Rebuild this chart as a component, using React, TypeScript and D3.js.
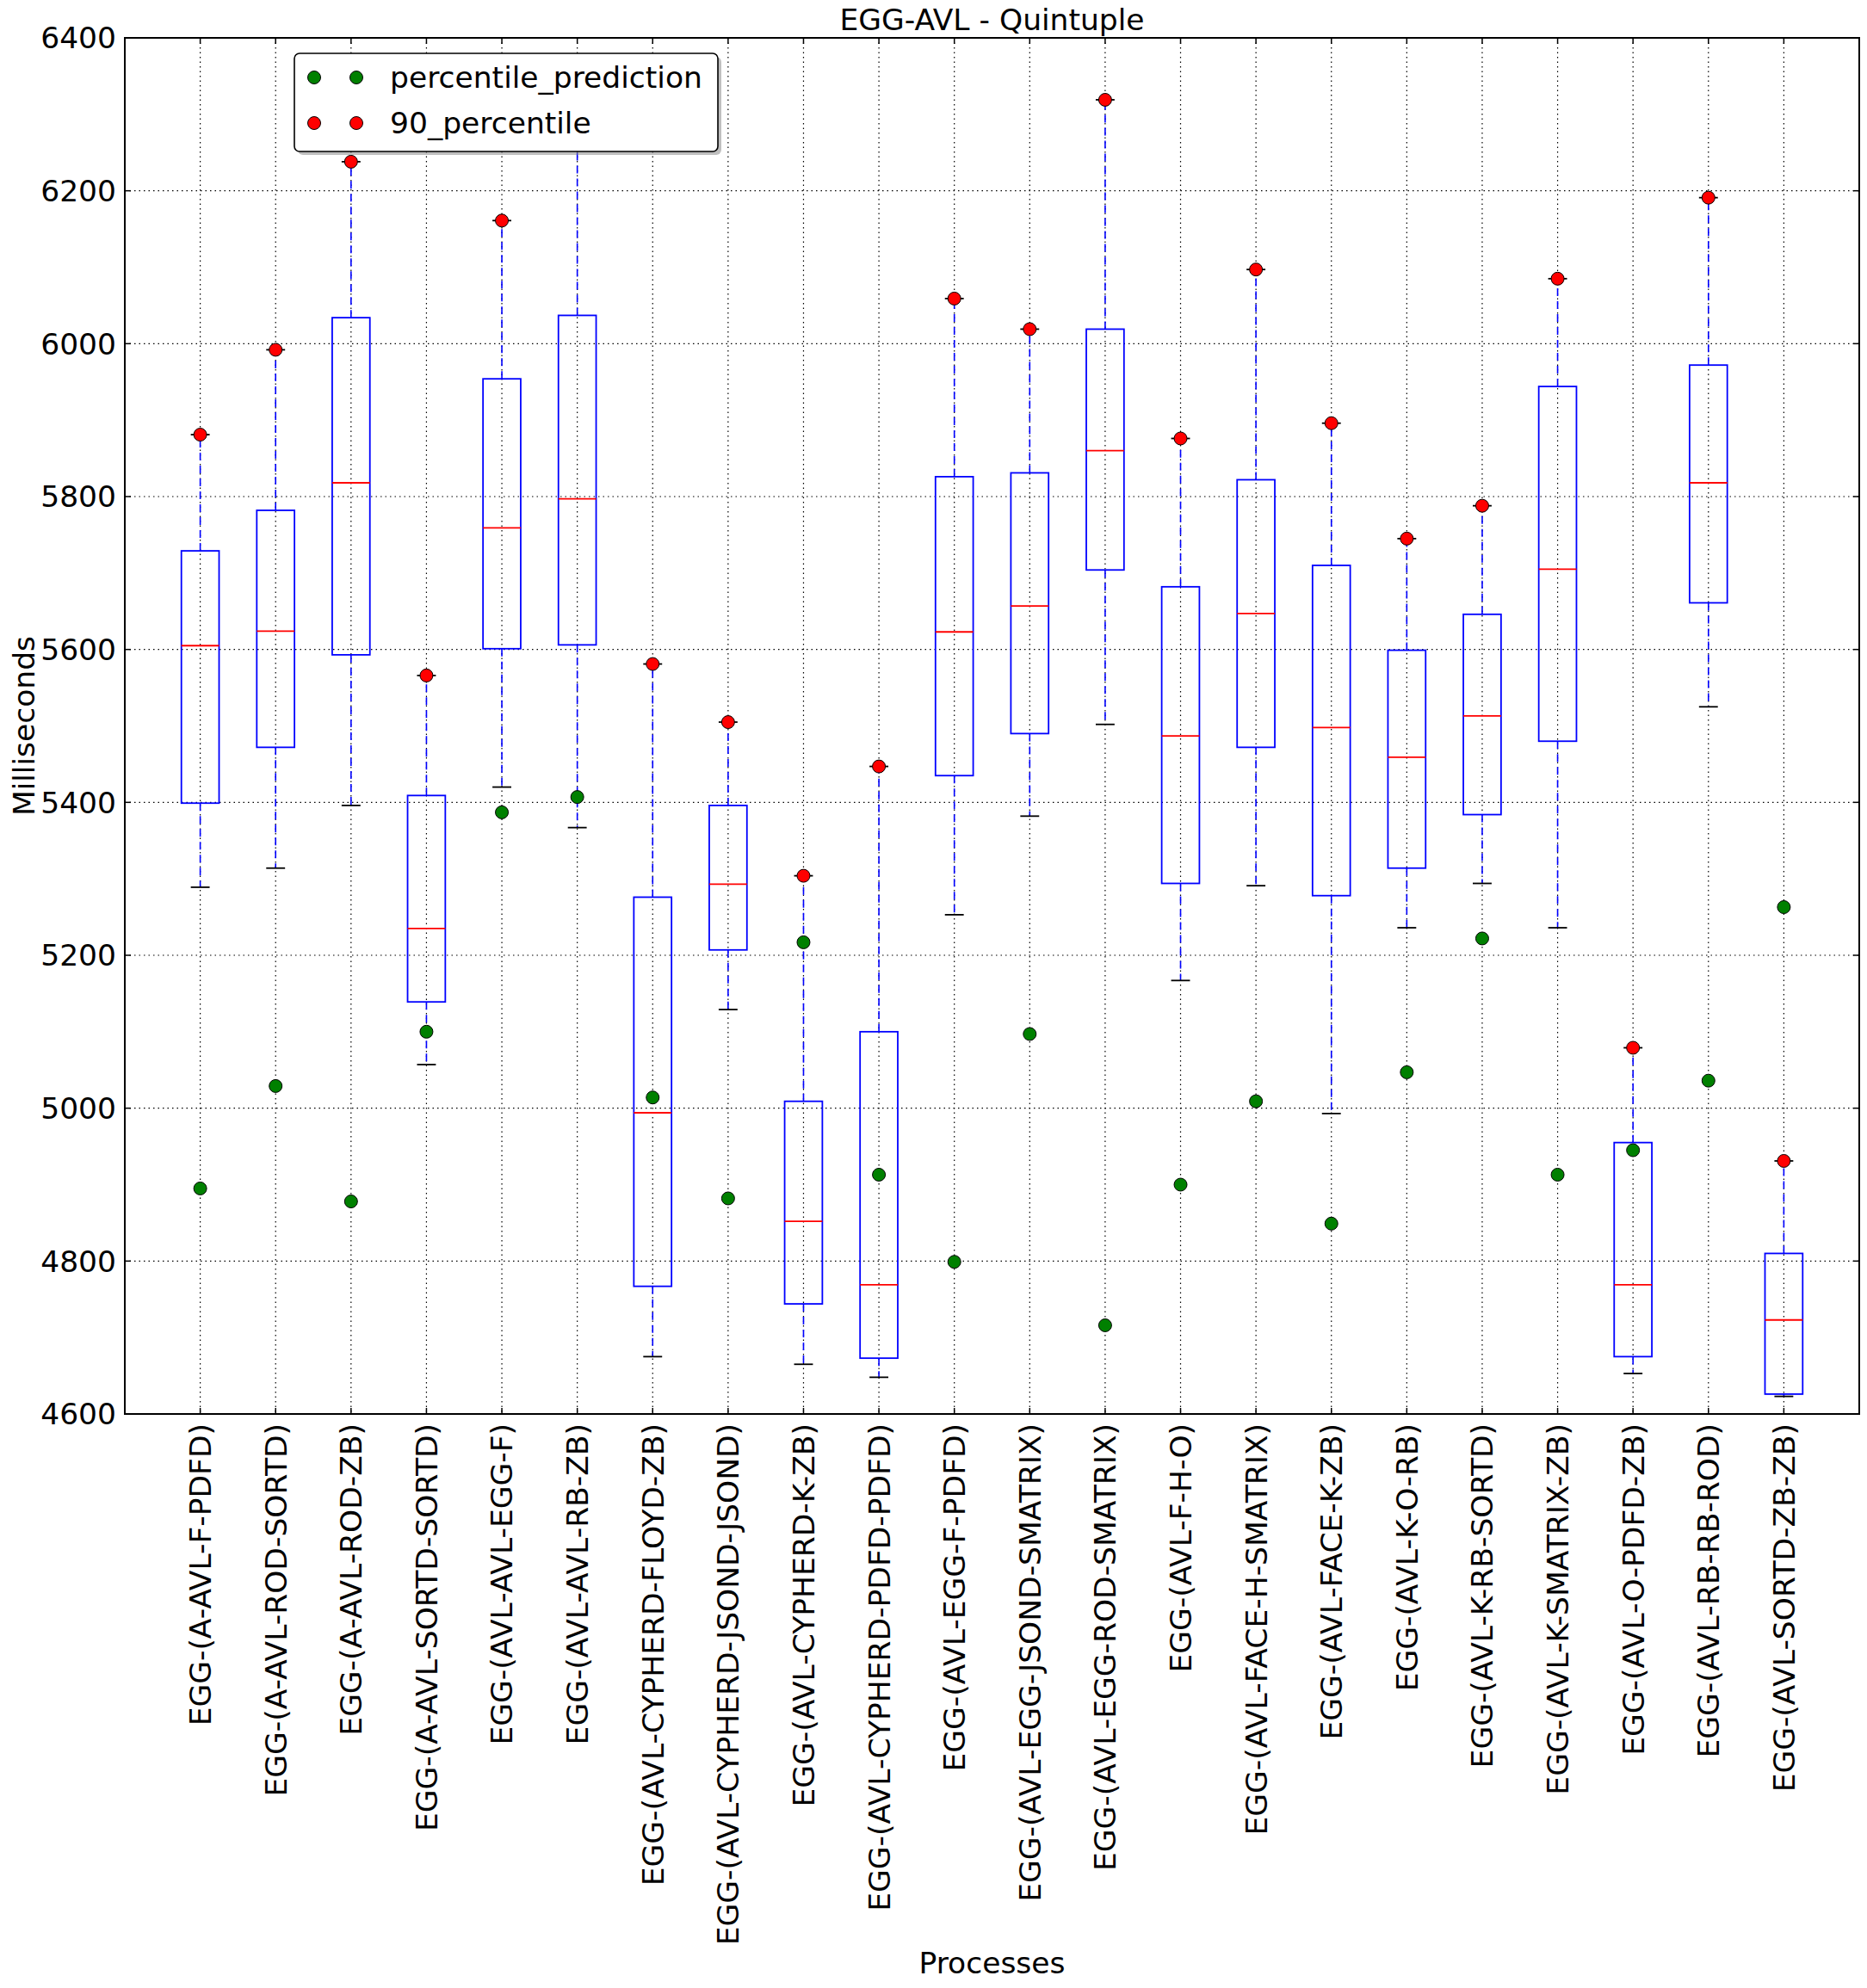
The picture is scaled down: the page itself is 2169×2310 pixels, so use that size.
import React from "react";
import * as d3 from "d3";

const categories = [
  "EGG-(A-AVL-F-PDFD)",
  "EGG-(A-AVL-ROD-SORTD)",
  "EGG-(A-AVL-ROD-ZB)",
  "EGG-(A-AVL-SORTD-SORTD)",
  "EGG-(AVL-AVL-EGG-F)",
  "EGG-(AVL-AVL-RB-ZB)",
  "EGG-(AVL-CYPHERD-FLOYD-ZB)",
  "EGG-(AVL-CYPHERD-JSOND-JSOND)",
  "EGG-(AVL-CYPHERD-K-ZB)",
  "EGG-(AVL-CYPHERD-PDFD-PDFD)",
  "EGG-(AVL-EGG-F-PDFD)",
  "EGG-(AVL-EGG-JSOND-SMATRIX)",
  "EGG-(AVL-EGG-ROD-SMATRIX)",
  "EGG-(AVL-F-H-O)",
  "EGG-(AVL-FACE-H-SMATRIX)",
  "EGG-(AVL-FACE-K-ZB)",
  "EGG-(AVL-K-O-RB)",
  "EGG-(AVL-K-RB-SORTD)",
  "EGG-(AVL-K-SMATRIX-ZB)",
  "EGG-(AVL-O-PDFD-ZB)",
  "EGG-(AVL-RB-RB-ROD)",
  "EGG-(AVL-SORTD-ZB-ZB)",
];

const whiskerLow = [5289, 5314, 5396, 5057, 5420, 5367, 4675, 5129, 4665, 4648, 5253, 5382, 5502, 5167, 5291, 4993, 5236, 5294, 5236, 4653, 5525, 4623];
const q1 = [5399, 5472, 5593, 5139, 5601, 5606, 4767, 5207, 4744, 4673, 5435, 5490, 5704, 5294, 5472, 5278, 5314, 5384, 5480, 4675, 5661, 4626];
const median = [5605, 5624, 5818, 5235, 5759, 5797, 4994, 5293, 4852, 4769, 5623, 5657, 5860, 5487, 5647, 5498, 5459, 5513, 5705, 4769, 5818, 4723];
const q3 = [5729, 5782, 6034, 5409, 5954, 6037, 5276, 5396, 5009, 5100, 5826, 5831, 6019, 5682, 5822, 5710, 5599, 5646, 5944, 4955, 5972, 4810];
const whiskerHigh = [5881, 5992, 6238, 5566, 6161, 6330, 5581, 5505, 5304, 5447, 6059, 6019, 6319, 5876, 6097, 5896, 5745, 5788, 6085, 5079, 6191, 4931];
const percentile90 = [5881, 5992, 6238, 5566, 6161, 6330, 5581, 5505, 5304, 5447, 6059, 6019, 6319, 5876, 6097, 5896, 5745, 5788, 6085, 5079, 6191, 4931];
const percentilePrediction = [4895, 5029, 4878, 5100, 5387, 5407, 5014, 4882, 5217, 4913, 4799, 5097, 4716, 4900, 5009, 4849, 5047, 5222, 4913, 4945, 5036, 5263];
const yTicks = [4600, 4800, 5000, 5200, 5400, 5600, 5800, 6000, 6200, 6400];

const W = 2169;
const H = 2310;
const L = 145, R = 2160, T = 44, B = 1643;
const FONT = "DejaVu Sans, sans-serif";
const FS = 34.5;

export default function App() {
  const x = d3.scaleLinear().domain([0, categories.length + 1]).range([L, R]);
  const y = d3.scaleLinear().domain([4600, 6400]).range([B, T]);
  const halfBox = (x(0.25) - x(0));
  const halfCap = (x(0.125) - x(0));
  const tickLen = 7;
  const r = 7.5;

  return (
    <svg width={W} height={H} style={{ position: "absolute", left: 0, top: 0, display: "block", background: "#fff" }} fontFamily={FONT}>
      <rect x={0} y={0} width={W} height={H} fill="#fff" />
      <defs>
        <clipPath id="plot"><rect x={L} y={T} width={R - L} height={B - T} /></clipPath>
      </defs>
      {/* grid */}
      <g stroke="#000" strokeWidth={1.2} strokeDasharray="1.5,4" fill="none">
        {yTicks.map((t) => (
          <line key={"gy" + t} x1={L} x2={R} y1={y(t)} y2={y(t)} />
        ))}
        {categories.map((c, i) => (
          <line key={"gx" + i} x1={x(i + 1)} x2={x(i + 1)} y1={T} y2={B} />
        ))}
      </g>
      {/* boxes */}
      <g clipPath="url(#plot)">
        {categories.map((c, i) => {
          const cx = x(i + 1);
          return (
            <g key={"b" + i}>
              <line x1={cx} x2={cx} y1={y(q3[i])} y2={y(whiskerHigh[i])} stroke="#0000ff" strokeWidth={1.6} strokeDasharray="9,6" />
              <line x1={cx} x2={cx} y1={y(q1[i])} y2={y(whiskerLow[i])} stroke="#0000ff" strokeWidth={1.6} strokeDasharray="9,6" />
              <line x1={cx - halfCap} x2={cx + halfCap} y1={y(whiskerHigh[i])} y2={y(whiskerHigh[i])} stroke="#000" strokeWidth={1.8} />
              <line x1={cx - halfCap} x2={cx + halfCap} y1={y(whiskerLow[i])} y2={y(whiskerLow[i])} stroke="#000" strokeWidth={1.8} />
              <rect x={cx - halfBox} y={y(q3[i])} width={halfBox * 2} height={y(q1[i]) - y(q3[i])} fill="none" stroke="#0000ff" strokeWidth={1.8} />
              <line x1={cx - halfBox} x2={cx + halfBox} y1={y(median[i])} y2={y(median[i])} stroke="#ff0000" strokeWidth={1.8} />
            </g>
          );
        })}
        {percentilePrediction.map((v, i) => (
          <circle key={"g" + i} cx={x(i + 1)} cy={y(v)} r={r} fill="#008000" stroke="#000" strokeWidth={1} />
        ))}
        {percentile90.map((v, i) => (
          <circle key={"r" + i} cx={x(i + 1)} cy={y(v)} r={r} fill="#ff0000" stroke="#000" strokeWidth={1} />
        ))}
      </g>
      {/* spines */}
      <rect x={L} y={T} width={R - L} height={B - T} fill="none" stroke="#000" strokeWidth={2} />
      {/* ticks */}
      <g stroke="#000" strokeWidth={1.5}>
        {yTicks.map((t) => (
          <g key={"ty" + t}>
            <line x1={L} x2={L + tickLen} y1={y(t)} y2={y(t)} />
            <line x1={R} x2={R - tickLen} y1={y(t)} y2={y(t)} />
          </g>
        ))}
        {categories.map((c, i) => (
          <g key={"tx" + i}>
            <line x1={x(i + 1)} x2={x(i + 1)} y1={B} y2={B - tickLen} />
            <line x1={x(i + 1)} x2={x(i + 1)} y1={T} y2={T + tickLen} />
          </g>
        ))}
      </g>
      {/* y tick labels */}
      {yTicks.map((t) => (
        <text key={"ly" + t} x={L - 10} y={y(t)} dy="0.36em" textAnchor="end" fontSize={FS} fill="#000">
          {t}
        </text>
      ))}
      {/* x tick labels */}
      {categories.map((c, i) => (
        <text key={"lx" + i} transform={`translate(${x(i + 1)},${B + 11}) rotate(-90)`} dy="0.36em" textAnchor="end" fontSize={FS} fill="#000">
          {c}
        </text>
      ))}
      {/* titles */}
      <text x={(L + R) / 2} y={35} textAnchor="middle" fontSize={FS} fill="#000">EGG-AVL - Quintuple</text>
      <text x={(L + R) / 2} y={2293} textAnchor="middle" fontSize={FS} fill="#000">Processes</text>
      <text transform={`translate(40,${(T + B) / 2}) rotate(-90)`} textAnchor="middle" fontSize={FS} fill="#000">Milliseconds</text>
      {/* legend */}
      <g>
        <rect x={346} y={66} width={492} height={114} rx={6} fill="#7f7f7f" opacity={0.5} />
        <rect x={342} y={62} width={492} height={114} rx={6} fill="#fff" stroke="#000" strokeWidth={1.6} />
        <circle cx={365} cy={90} r={r} fill="#008000" stroke="#000" strokeWidth={1} />
        <circle cx={414} cy={90} r={r} fill="#008000" stroke="#000" strokeWidth={1} />
        <text x={453} y={90} dy="0.36em" fontSize={FS} fill="#000">percentile_prediction</text>
        <circle cx={365} cy={143} r={r} fill="#ff0000" stroke="#000" strokeWidth={1} />
        <circle cx={414} cy={143} r={r} fill="#ff0000" stroke="#000" strokeWidth={1} />
        <text x={453} y={143} dy="0.36em" fontSize={FS} fill="#000">90_percentile</text>
      </g>
    </svg>
  );
}
